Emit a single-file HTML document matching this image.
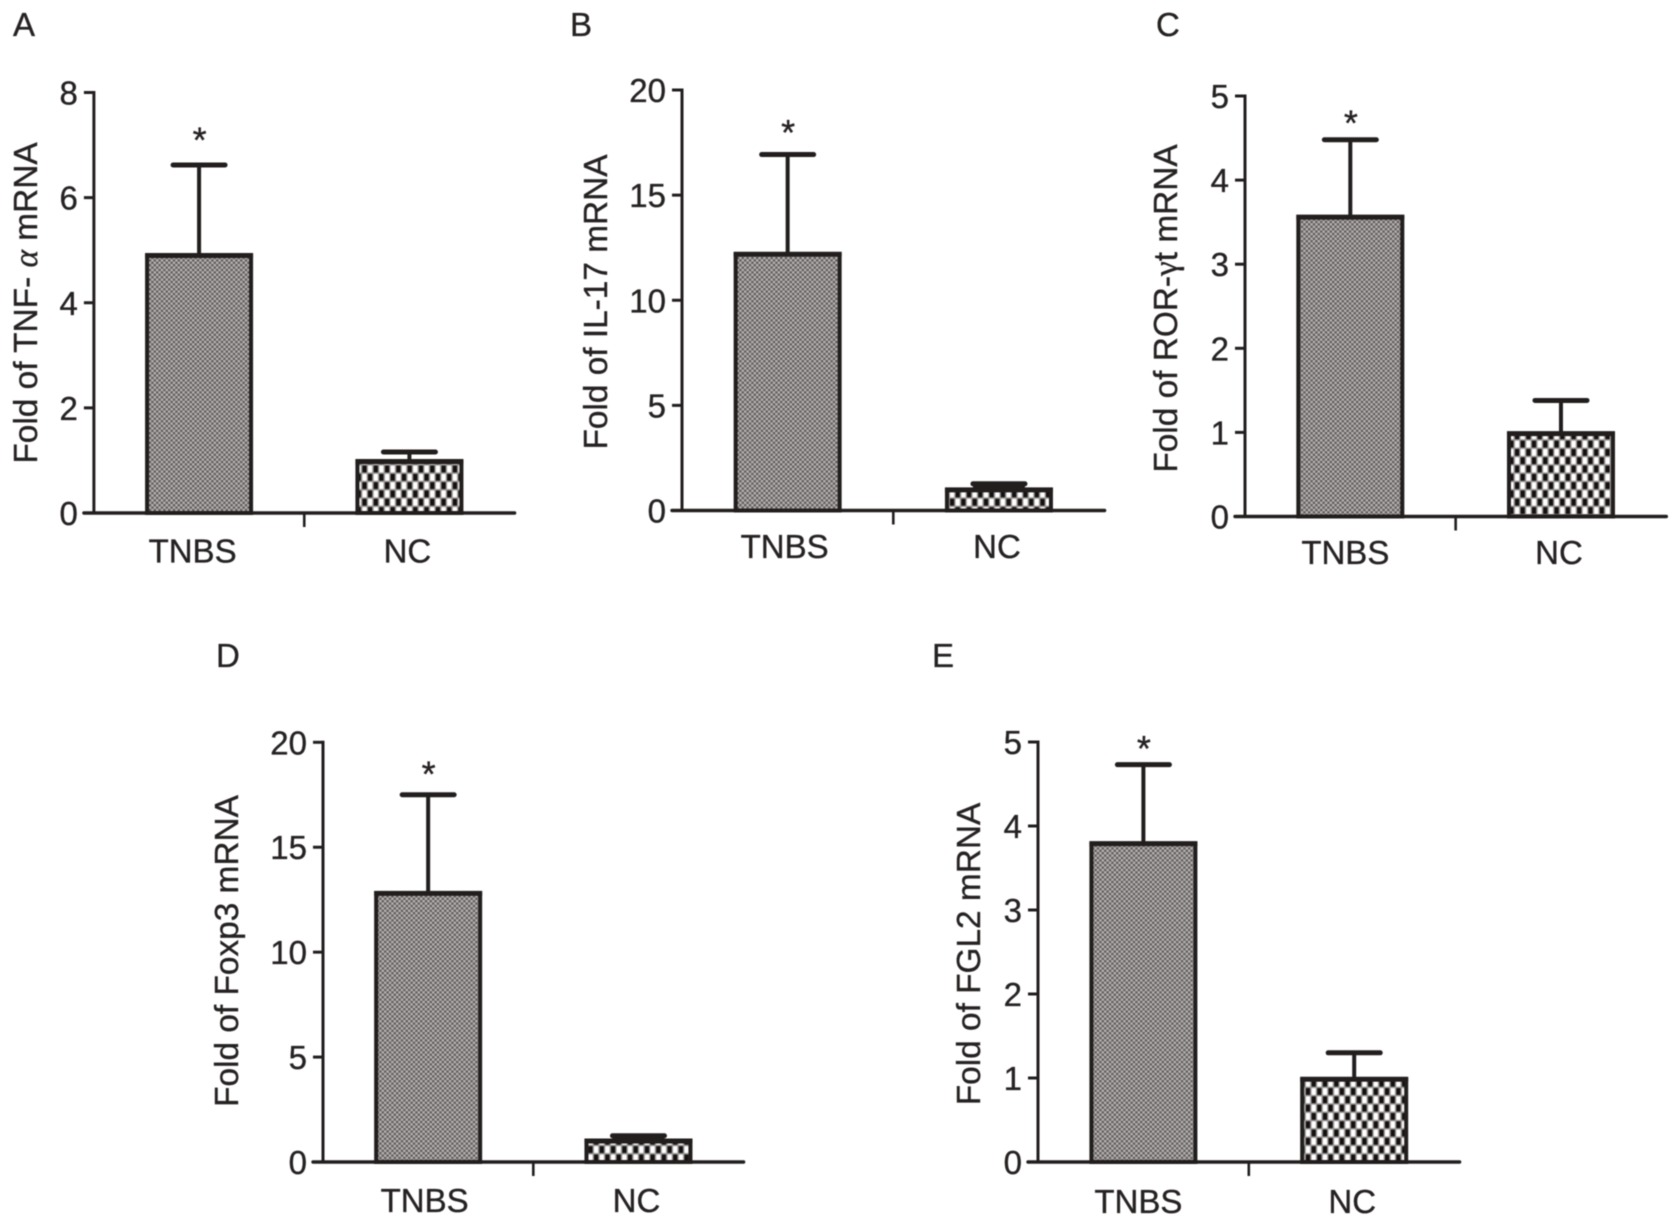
<!DOCTYPE html>
<html lang="en">
<head>
<meta charset="utf-8">
<title>Fold change of mRNA in TNBS and NC groups</title>
<style>
  html, body { margin: 0; padding: 0; background: #fff; }
  body { width: 1680px; height: 1225px; overflow: hidden; }
  svg { display: block; filter: blur(0.5px); }
  text { font-family: "Liberation Sans", sans-serif; fill: #262222; stroke: #262222; stroke-width: 0.35px; }
</style>
</head>
<body>
<svg id="figure" xmlns="http://www.w3.org/2000/svg" width="1680" height="1225" viewBox="0 0 1680 1225">
  <defs>
    <pattern id="dense-pattern" patternUnits="userSpaceOnUse" width="4.8" height="4.8">
      <rect width="4.8" height="4.8" fill="#918d8d"/>
      <rect x="0.2" y="0.2" width="2" height="2" fill="#585454"/>
      <rect x="2.6" y="2.6" width="2" height="2" fill="#585454"/>
      <rect x="2.6" y="0.2" width="2" height="2" fill="#bdb9b9"/>
      <rect x="0.2" y="2.6" width="2" height="2" fill="#bdb9b9"/>
    </pattern>
    <pattern id="check-pattern" patternUnits="userSpaceOnUse" width="11.3" height="16.6">
      <rect width="11.3" height="16.6" fill="#9a9696"/>
      <rect x="0.8" y="0.8" width="4.2" height="6.8" fill="#141010"/>
      <rect x="6.4" y="0.8" width="4.2" height="6.8" fill="#ffffff"/>
      <rect x="6.4" y="9.1" width="4.2" height="6.8" fill="#141010"/>
      <rect x="0.8" y="9.1" width="4.2" height="6.8" fill="#ffffff"/>
    </pattern>
  </defs>
</svg>
<script>
const categories = ["TNBS", "NC"];
const panelLetters = ["A", "B", "C", "D", "E"];
const yTitles = ["Fold of TNF- ", "Fold of IL-17 mRNA", "Fold of ROR-", "Fold of Foxp3 mRNA", "Fold of FGL2 mRNA"];
const yMaxValues = [8, 20, 5, 20, 5];
const tickLabelsA = [0, 2, 4, 6, 8];
const tickLabelsB = [0, 5, 10, 15, 20];
const tickLabelsC = [0, 1, 2, 3, 4, 5];
const tickLabelsD = [0, 5, 10, 15, 20];
const tickLabelsE = [0, 1, 2, 3, 4, 5];
const tnbsMeans = [4.9, 12.19, 3.56, 12.8, 3.79];
const ncMeans = [0.98, 0.98, 0.985, 1.0, 0.985];
const tnbsUpper = [6.62, 16.93, 4.48, 17.5, 4.73];
const ncUpper = [1.16, 1.27, 1.38, 1.25, 1.30];

const allTicks = [tickLabelsA, tickLabelsB, tickLabelsC, tickLabelsD, tickLabelsE];

const svg = document.getElementById("figure");
const NS = "http://www.w3.org/2000/svg";

function make(tag, attrs, parent) {
  const el = document.createElementNS(NS, tag);
  for (const k in attrs) el.setAttribute(k, attrs[k]);
  parent.appendChild(el);
  return el;
}

function line(parent, x1, y1, x2, y2, w, cap) {
  return make("line", { x1, y1, x2, y2, stroke: "#221e1e", "stroke-width": w, "stroke-linecap": cap || "butt" }, parent);
}

function drawPanel(i, f) {
  const g = make("g", {}, svg);
  
  

  const yScale = v => f.y0 - (v / yMaxValues[i]) * (f.y0 - f.yTop);
  const xScale = k => f.x0 + (f.x1 - f.x0) * (k + 0.5) / categories.length;
  const barWidth = 104;

  const letter = make("text", { x: f.letterX, y: f.letterY, "font-size": 33 }, g);
  letter.textContent = panelLetters[i];
  
  

  const title = make("text", {
    transform: "translate(" + f.titleX + "," + f.titleY + ") rotate(-90)",
    "text-anchor": "middle", "font-size": 33.4
  }, g);
  
  
  title.textContent = yTitles[i];
  if (i === 0) {
    const a = make("tspan", { "font-family": "Liberation Serif, serif", "font-style": "italic" }, title);
    a.textContent = "\u03B1";
    const rest = make("tspan", {}, title);
    rest.textContent = " mRNA";
  }
  if (i === 2) {
    const a = make("tspan", { "font-family": "Liberation Serif, serif" }, title);
    a.textContent = "\u03B3";
    const rest = make("tspan", {}, title);
    rest.textContent = "t mRNA";
  }

  const series = [tnbsMeans, ncMeans];
  const uppers = [tnbsUpper, ncUpper];
  const fills = ["url(#dense-pattern)", "url(#check-pattern)"];

  categories.forEach((name, k) => {
    const cx = xScale(k);
    const top = yScale(series[k][i]);
    const up = yScale(uppers[k][i]);
    // Very short error bars merge with their cap into one solid block.
    const stemWidth = (top - up) < 7 ? 52 : 4;

    const stem = line(g, cx, up, cx, top, stemWidth);
    
    
    const capLine = line(g, cx - 26, up, cx + 26, up, 5, "round");
    
    

    const bar = make("rect", {
      x: cx - barWidth / 2, y: top, width: barWidth, height: f.y0 - top,
      fill: fills[k], stroke: "#221e1e", "stroke-width": 4
    }, g);
    
    
    const topEdge = line(g, cx - barWidth / 2 - 2, top, cx + barWidth / 2 + 2, top, 5);
    
    

    const label = make("text", {
      x: cx + (k === 0 ? f.labelDx : -2), y: f.y0 + f.labelDy,
      "text-anchor": "middle", "font-size": 33
    }, g);
    label.textContent = name;
    
    
  });

  const star = make("text", {
    x: xScale(0) + 0.5, y: yScale(uppers[0][i]) - f.starLift,
    "text-anchor": "middle", "font-size": 36
  }, g);
  star.textContent = "*";
  
  

  const yAxis = line(g, f.x0, f.yTop - 1.5, f.x0, f.y0 + 1.5, 3);
  
  
  const xAxis = line(g, f.x0 - 10, f.y0, f.x1, f.y0, 3.4, "round");
  
  
  const midTick = line(g, (f.x0 + f.x1) / 2, f.y0, (f.x0 + f.x1) / 2, f.y0 + 14, 2.6);
  
  

  allTicks[i].forEach(t => {
    const y = yScale(t);
    const tick = line(g, f.x0 - 10, y, f.x0, y, 3);
    
    
    const tl = make("text", { x: f.x0 - 16, y: y + 12, "text-anchor": "end", "font-size": 33 }, g);
    tl.textContent = t;
    
    
  });
}

drawPanel(0, { x0: 93.9, x1: 514.6, yTop: 92.5, y0: 513, labelDx: -6.5, labelDy: 49.5, letterX: 13, letterY: 36, titleX: 37, titleY: 303, starLift: 12.5 });
drawPanel(1, { x0: 682, x1: 1104.6, yTop: 90, y0: 510.5, labelDx: -3, labelDy: 47.5, letterX: 570, letterY: 36, titleX: 607, titleY: 302, starLift: 9.5 });
drawPanel(2, { x0: 1245, x1: 1666.3, yTop: 96, y0: 516.5, labelDx: -5, labelDy: 47.5, letterX: 1156, letterY: 36, titleX: 1177, titleY: 308.5, starLift: 4 });
drawPanel(3, { x0: 323, x1: 743.6, yTop: 742.3, y0: 1162, labelDx: -3.5, labelDy: 50, letterX: 216, letterY: 667, titleX: 238, titleY: 951, starLift: 8.5 });
drawPanel(4, { x0: 1038, x1: 1459.6, yTop: 742, y0: 1162, labelDx: -5, labelDy: 51, letterX: 932, letterY: 667, titleX: 980, titleY: 954, starLift: 3.5 });
</script>
</body>
</html>
